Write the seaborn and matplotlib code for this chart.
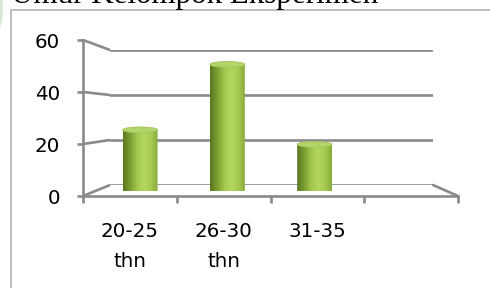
import numpy as np
import pandas as pd
import matplotlib
matplotlib.use("Agg")
import matplotlib.pyplot as plt
import seaborn as sns
from matplotlib.path import Path
from matplotlib.patches import Ellipse, PathPatch
from matplotlib.lines import Line2D

# ---- data ----
categories = ["20-25\nthn", "26-30\nthn", "31-35", ""]
values = [25, 52, 19, 0]
yticks = [0, 20, 40, 60]
title = "Umur Kelompok Eksperimen"

sns.set_theme(style="white")
plt.rcParams['font.family'] = ['DejaVu Sans']

W, H = 490, 288
fig = plt.figure(figsize=(W / 100, H / 100), dpi=100)
fig.patch.set_facecolor("white")


def box(x0, y0, x1, y1):
    return [x0 / W, 1 - y1 / H, (x1 - x0) / W, (y1 - y0) / H]


GRID = "#8a8a8a"
LW = 1.9
xlim = (-0.5, len(categories) - 0.5)

# decorative pale arc top-left
fig.patches.append(Ellipse((-10 / W, 1 - 8 / H), 26 / W, 64 / H, transform=fig.transFigure,
                           facecolor="#d9e9d4", edgecolor="none", zorder=0))
# chart border (extends beyond the image on right / bottom)
fig.add_artist(Line2D([11 / W, 11 / W, 1.2], [-0.2, 1 - 10 / H, 1 - 10 / H],
                      transform=fig.transFigure, color="#b4b4b4", lw=1.2))

# title (cut off at the top, as in the source)
fig.text(11 / W, 1 - 3.5 / H, title, family="Liberation Serif", fontsize=22.3,
         ha="left", va="baseline", color="black")

# ---- back wall ----
ax_back = fig.add_axes(box(110, 50, 433, 185))
ax_back.set_xlim(*xlim)
ax_back.set_ylim(0, 60)
ax_back.set_yticks(yticks)
ax_back.set_xticks([])
ax_back.yaxis.grid(True, color=GRID, lw=LW)
ax_back.tick_params(left=False, labelleft=False)
for s in ax_back.spines.values():
    s.set_visible(False)
ax_back.patch.set_alpha(0)

# ---- front frame (axis, ticks, labels) ----
ax_front = fig.add_axes(box(83, 40, 458, 196))
ax_front.set_xlim(*xlim)
ax_front.set_ylim(0, 60)
ax_front.patch.set_alpha(0)
for k in ["top", "right"]:
    ax_front.spines[k].set_visible(False)
for k in ["left", "bottom"]:
    ax_front.spines[k].set_color(GRID)
    ax_front.spines[k].set_linewidth(LW)
ax_front.set_yticks(yticks)
ax_front.set_yticklabels([str(v) for v in yticks])
ax_front.set_xticks(np.arange(len(categories) + 1) - 0.5)
ax_front.set_xticklabels([])
ax_front.set_xticks(np.arange(len(categories)), minor=True)
ax_front.set_xticklabels(categories, minor=True)
ax_front.tick_params(axis="y", which="major", direction="out", length=4.5, width=LW,
                     color=GRID, pad=12, labelsize=14.3, labelcolor="black", left=True)
ax_front.tick_params(axis="x", which="major", direction="out", length=5, width=LW,
                     color=GRID, bottom=True)
ax_front.tick_params(axis="x", which="minor", length=0, pad=19, labelsize=14.3,
                     labelcolor="black")
for lab in ax_front.get_xticklabels(minor=True):
    lab.set_linespacing(1.72)
ax_front.grid(False)

# connecting slants (left wall and floor right edge)
def fig_pt(ax, x, y):
    return fig.transFigure.inverted().transform(ax.transData.transform((x, y)))

for v in yticks:
    p0 = fig_pt(ax_front, xlim[0], v)
    p1 = fig_pt(ax_back, xlim[0], v)
    fig.add_artist(Line2D([p0[0], p1[0]], [p0[1], p1[1]], transform=fig.transFigure,
                          color=GRID, lw=LW, solid_capstyle="butt"))
p0 = fig_pt(ax_front, xlim[1], 0)
p1 = fig_pt(ax_back, xlim[1], 0)
fig.add_artist(Line2D([p0[0], p1[0]], [p0[1], p1[1]], transform=fig.transFigure,
                      color=GRID, lw=LW))

# ---- bars (mid depth plane) ----
ax_mid = fig.add_axes(box(96.5, 45, 445.5, 190.5))
df = pd.DataFrame({"cat": categories, "val": values})
sns.barplot(data=df, x="cat", y="val", ax=ax_mid, width=0.4, color="#9bbf45",
            order=categories)
ax_mid.set_xlim(*xlim)
ax_mid.set_ylim(0, 60)
ax_mid.axis("off")
ax_mid.patch.set_alpha(0)

grad_cols = ["#5a7620", "#7b9c31", "#a2c64c", "#b5d662", "#a8cb54", "#87aa3a"]
cmap = matplotlib.colors.LinearSegmentedColormap.from_list("cyl", grad_cols)
grad = np.linspace(0, 1, 256).reshape(1, -1)
ell_h = 2.4  # data units

for p in list(ax_mid.patches):
    x0, w, h = p.get_x(), p.get_width(), p.get_height()
    p.set_visible(False)
    if h <= 0:
        continue
    xc = x0 + w / 2
    t = np.linspace(np.pi, 2 * np.pi, 40)
    bx = xc + (w / 2) * np.cos(t)
    by = (ell_h / 2) * np.sin(t)
    verts = list(zip(bx, by)) + [(x0 + w, h), (x0, h), (bx[0], by[0])]
    codes = [Path.MOVETO] + [Path.LINETO] * (len(verts) - 2) + [Path.CLOSEPOLY]
    clip = PathPatch(Path(verts, codes), transform=ax_mid.transData,
                     facecolor="none", edgecolor="none")
    ax_mid.add_patch(clip)
    im = ax_mid.imshow(grad, cmap=cmap, extent=[x0, x0 + w, -ell_h, h], aspect="auto",
                       interpolation="bilinear", zorder=3)
    im.set_clip_path(clip)
    ax_mid.add_patch(Ellipse((xc, h), w, ell_h, facecolor="#b3d46a",
                             edgecolor="#a2c456", lw=0.6, zorder=4))

ax_mid.set_xlim(*xlim)
ax_mid.set_ylim(0, 60)

fig.savefig("out.png", dpi=100, facecolor="white")
